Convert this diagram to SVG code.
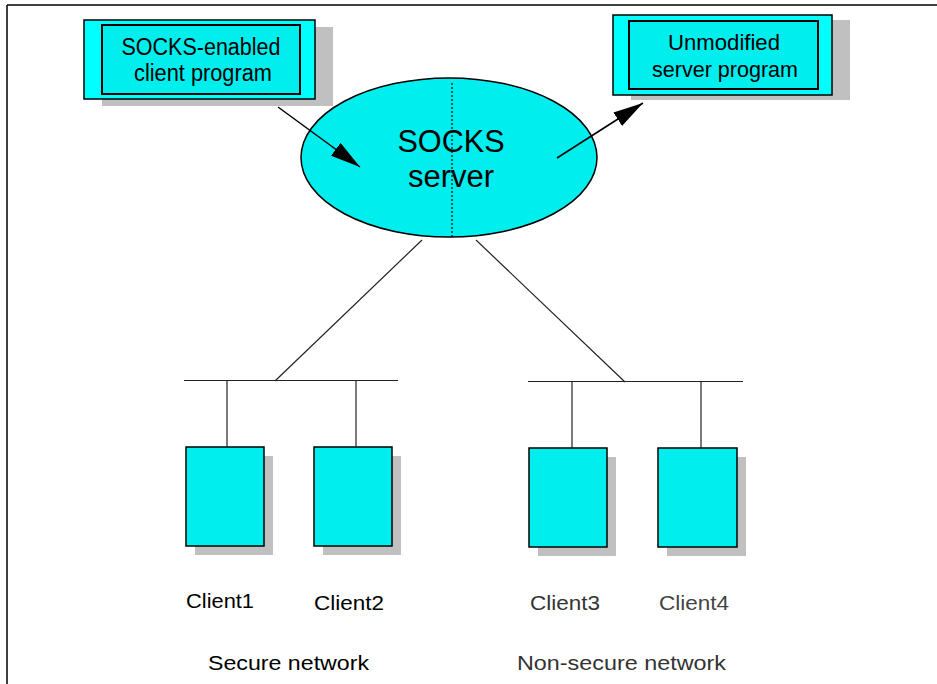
<svg xmlns="http://www.w3.org/2000/svg" width="937" height="684" viewBox="0 0 937 684">
<style>
text{font-family:"Liberation Sans",Arial,sans-serif;fill:#000;text-anchor:middle}
.shadow{fill:#c0c0c0}
.outer{fill:#00ffff;stroke:#000;stroke-width:1.5}
.inner{fill:#00eeee;stroke:#000;stroke-width:2}
.client{fill:#00eeee;stroke:#000;stroke-width:1.5}
.wire{stroke:#222;stroke-width:1.2;fill:none}
.arrow{stroke:#000;stroke-width:1.5;fill:none;marker-end:url(#ah)}
</style>
<defs>
<marker id="ah" viewBox="0 0 30 16" refX="30" refY="8" markerWidth="30" markerHeight="16" markerUnits="userSpaceOnUse" orient="auto">
<path d="M0,0 L30,8 L0,16 z" fill="#000"/>
</marker>
</defs>
<rect width="937" height="684" fill="#fff"/>
<g id="frame">
<line x1="7" y1="5" x2="937" y2="5" stroke="#000" stroke-width="1.5"/>
<line x1="7" y1="5" x2="7" y2="684" stroke="#000" stroke-width="1.5"/>
</g>
<g id="client-program">
<rect class="shadow" x="102" y="27" width="231" height="79"/>
<rect class="outer" x="84" y="20" width="231" height="79"/>
<rect class="inner" x="102" y="25" width="198" height="69"/>
<text x="201" y="55" font-size="23" textLength="159" lengthAdjust="spacingAndGlyphs">SOCKS-enabled</text>
<text x="203" y="81" font-size="23" textLength="138" lengthAdjust="spacingAndGlyphs">client program</text>
</g>
<g id="server-program">
<rect class="shadow" x="631" y="20" width="219" height="80"/>
<rect class="outer" x="613" y="15" width="219" height="80"/>
<rect class="inner" x="629" y="21" width="189" height="68"/>
<text x="724" y="50" font-size="22.5" textLength="112" lengthAdjust="spacingAndGlyphs">Unmodified</text>
<text x="725" y="77" font-size="22.5" textLength="146" lengthAdjust="spacingAndGlyphs">server program</text>
</g>
<g id="socks-server">
<ellipse cx="449" cy="157.5" rx="148" ry="79.5" fill="#00eeee" stroke="#000" stroke-width="1.5"/>
<line x1="452" y1="83" x2="452" y2="237" stroke="#000" stroke-width="1.2" stroke-dasharray="2,2"/>
<text x="451" y="152" font-size="30.6">SOCKS</text>
<text x="451" y="187" font-size="31">server</text>
</g>
<g id="client1">
<rect class="shadow" x="195" y="456" width="78" height="99"/>
<rect class="client" x="186" y="447" width="78" height="99"/>
<text x="220" y="608" font-size="20" textLength="68" lengthAdjust="spacingAndGlyphs">Client1</text>
</g>
<g id="client2">
<rect class="shadow" x="323" y="456" width="78" height="99"/>
<rect class="client" x="314" y="447" width="78" height="99"/>
<text x="349" y="610" font-size="20" textLength="70" lengthAdjust="spacingAndGlyphs">Client2</text>
</g>
<g id="client3">
<rect class="shadow" x="538" y="457" width="78" height="99"/>
<rect class="client" x="529" y="448" width="78" height="99"/>
<text x="565" y="610" font-size="20" textLength="70" lengthAdjust="spacingAndGlyphs" style="fill:#333">Client3</text>
</g>
<g id="client4">
<rect class="shadow" x="667" y="457" width="79" height="99"/>
<rect class="client" x="658" y="448" width="79" height="99"/>
<text x="694" y="610" font-size="20" textLength="70" lengthAdjust="spacingAndGlyphs" style="fill:#444">Client4</text>
</g>
<g id="secure-network">
<text x="288.5" y="670" font-size="21" textLength="161" lengthAdjust="spacingAndGlyphs">Secure network</text>
</g>
<g id="non-secure-network">
<text x="621.5" y="670" font-size="21" textLength="209" lengthAdjust="spacingAndGlyphs" style="fill:#333">Non-secure network</text>
</g>
<g id="connectors">
<line class="arrow" x1="278" y1="107" x2="360" y2="167"/>
<line class="arrow" x1="557" y1="158" x2="643" y2="103"/>
<line class="wire" x1="422" y1="240" x2="275" y2="381"/>
<line class="wire" x1="476" y1="240" x2="625" y2="382"/>
<line class="wire" x1="184" y1="380.5" x2="398" y2="380.5"/>
<line class="wire" x1="227" y1="380" x2="227" y2="447"/>
<line class="wire" x1="356" y1="380" x2="356" y2="447"/>
<line class="wire" x1="528" y1="381.5" x2="743" y2="381.5"/>
<line class="wire" x1="572" y1="381" x2="572" y2="448"/>
<line class="wire" x1="701" y1="381" x2="701" y2="448"/>
</g>
</svg>
